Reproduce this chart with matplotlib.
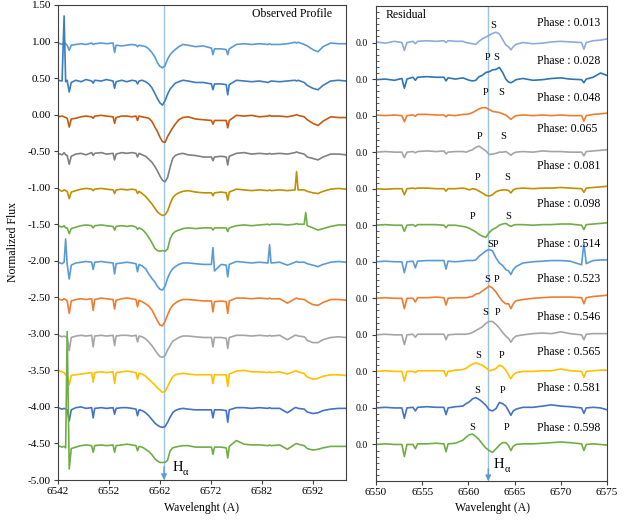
import numpy as np
import matplotlib
matplotlib.use("Agg")
import matplotlib.pyplot as plt
from matplotlib.ticker import FixedLocator, MultipleLocator, FormatStrFormatter
from matplotlib.transforms import offset_copy

plt.rcParams['font.family'] = ['Liberation Serif', 'DejaVu Serif']
plt.rcParams['axes.unicode_minus'] = False

# ---------------- observed profiles (left panel) ----------------
WL_OBS = [6542.0, 6542.8, 6543.2, 6543.5, 6543.8, 6544.2, 6544.6, 6545.5, 6546.5, 6547.5,
          6548.6, 6548.9, 6549.2, 6550.5, 6551.5, 6552.8, 6553.1, 6553.4, 6554.5, 6555.5,
          6556.5, 6557.3, 6557.6, 6557.9, 6558.5, 6559.2, 6559.8, 6560.4, 6561.0, 6561.5,
          6562.0, 6562.5, 6563.0, 6563.5, 6564.0, 6564.5, 6565.0, 6565.7, 6566.5, 6567.5,
          6569.0, 6570.5, 6572.1, 6572.4, 6572.7, 6574.0, 6575.0, 6575.3, 6575.6, 6577.0,
          6578.5, 6580.0, 6581.5, 6583.2, 6583.5, 6583.8, 6585.5, 6587.0, 6588.5, 6588.8,
          6589.1, 6590.3, 6590.6, 6590.9, 6592.0, 6593.0, 6594.0, 6595.5, 6597.0, 6598.5]

obs_01 = [0.98, 0.96, 0.99, 0.97, 0.95, 0.88, 0.95, 0.96, 0.97, 0.96,
          0.98, 0.96, 0.97, 0.98, 0.97, 0.98, 0.85, 0.95, 0.94, 0.95,
          0.96, 0.95, 0.93, 0.95, 0.94, 0.93, 0.90, 0.85, 0.79, 0.71,
          0.66, 0.64, 0.67, 0.76, 0.82, 0.86, 0.89, 0.93, 0.96, 0.95,
          0.93, 0.94, 0.91, 0.82, 0.90, 0.90, 0.89, 0.82, 0.90, 0.96,
          0.97, 0.96, 0.97, 0.96, 0.97, 0.96, 0.96, 0.97, 0.99, 0.98,
          0.99, 0.96, 0.95, 0.94, 0.89, 0.86, 0.93, 0.98, 0.97, 0.97]
obs_02 = [0.47, 0.46, 1.35, 0.45, 0.47, 0.31, 0.44, 0.47, 0.45, 0.48,
          0.46, 0.43, 0.47, 0.46, 0.48, 0.46, 0.36, 0.45, 0.47, 0.45,
          0.47, 0.46, 0.42, 0.46, 0.47, 0.45, 0.42, 0.37, 0.29, 0.22,
          0.16, 0.13, 0.19, 0.28, 0.35, 0.39, 0.43, 0.45, 0.47, 0.46,
          0.44, 0.44, 0.42, 0.34, 0.42, 0.42, 0.41, 0.27, 0.41, 0.47,
          0.46, 0.45, 0.46, 0.44, 0.45, 0.46, 0.45, 0.46, 0.47, 0.46,
          0.47, 0.44, 0.42, 0.40, 0.36, 0.34, 0.40, 0.46, 0.47, 0.46]
obs_03 = [-0.03, -0.02, -0.03, -0.04, -0.05, -0.17, -0.06, -0.05, -0.03, -0.02,
          -0.03, -0.05, -0.02, -0.01, -0.02, -0.03, -0.12, -0.04, -0.02, -0.02,
          -0.03, -0.02, -0.08, -0.02, -0.03, -0.04, -0.05, -0.09, -0.17, -0.23,
          -0.31, -0.37, -0.38, -0.30, -0.24, -0.18, -0.13, -0.07, -0.04, -0.03,
          -0.06, -0.07, -0.08, -0.13, -0.08, -0.08, -0.08, -0.18, -0.08, -0.01,
          -0.02, -0.01, -0.03, -0.02, -0.01, -0.02, -0.02, -0.03, -0.01, 0.00,
          -0.01, -0.03, -0.05, -0.07, -0.12, -0.15, -0.09, -0.03, -0.04, -0.04]
obs_04 = [-0.53, -0.55, -0.52, -0.55, -0.56, -0.68, -0.57, -0.54, -0.53, -0.55,
          -0.52, -0.56, -0.53, -0.52, -0.54, -0.53, -0.62, -0.54, -0.52, -0.53,
          -0.52, -0.53, -0.58, -0.53, -0.55, -0.57, -0.61, -0.65, -0.71, -0.77,
          -0.84, -0.90, -0.92, -0.86, -0.72, -0.60, -0.56, -0.54, -0.53, -0.55,
          -0.56, -0.58, -0.58, -0.63, -0.58, -0.57, -0.58, -0.69, -0.57, -0.53,
          -0.52, -0.54, -0.53, -0.54, -0.53, -0.54, -0.53, -0.54, -0.52, -0.51,
          -0.52, -0.54, -0.56, -0.58, -0.60, -0.62, -0.58, -0.54, -0.54, -0.55]
obs_05 = [-1.02, -1.05, -1.03, -1.04, -1.05, -1.15, -1.06, -1.04, -1.02, -1.01,
          -1.02, -1.04, -1.02, -1.01, -1.02, -1.03, -1.08, -1.03, -1.02, -1.03,
          -1.02, -1.03, -1.08, -1.05, -1.08, -1.12, -1.17, -1.22, -1.28, -1.33,
          -1.36, -1.38, -1.37, -1.32, -1.22, -1.14, -1.10, -1.07, -1.05, -1.04,
          -1.06, -1.07, -1.07, -1.11, -1.07, -1.06, -1.07, -1.17, -1.06, -1.02,
          -1.03, -1.04, -1.03, -1.04, -1.03, -1.04, -1.03, -1.04, -1.03, -0.78,
          -1.03, -1.03, -1.04, -1.05, -1.07, -1.08, -1.05, -1.02, -1.01, -1.02]
obs_06 = [-1.52, -1.54, -1.52, -1.55, -1.55, -1.63, -1.56, -1.54, -1.52, -1.51,
          -1.52, -1.55, -1.52, -1.51, -1.52, -1.53, -1.58, -1.53, -1.52, -1.53,
          -1.52, -1.54, -1.57, -1.55, -1.57, -1.62, -1.68, -1.75, -1.83, -1.86,
          -1.87, -1.86, -1.87, -1.84, -1.70, -1.63, -1.60, -1.58, -1.56, -1.55,
          -1.56, -1.55, -1.55, -1.58, -1.55, -1.55, -1.55, -1.60, -1.55, -1.52,
          -1.51, -1.52, -1.51, -1.50, -1.51, -1.50, -1.50, -1.51, -1.50, -1.49,
          -1.50, -1.50, -1.34, -1.52, -1.55, -1.58, -1.56, -1.53, -1.51, -1.51]
obs_07 = [-2.02, -2.04, -2.02, -1.70, -2.05, -2.25, -2.06, -2.03, -2.02, -2.01,
          -2.02, -2.12, -2.02, -2.01, -2.02, -2.03, -2.18, -2.04, -2.03, -2.02,
          -2.03, -2.04, -2.15, -2.05, -2.07, -2.11, -2.18, -2.24, -2.29, -2.35,
          -2.39, -2.40, -2.35, -2.24, -2.16, -2.11, -2.08, -2.05, -2.03, -2.03,
          -2.04, -2.05, -2.05, -1.82, -2.14, -2.05, -2.06, -2.22, -2.05, -2.01,
          -2.02, -2.03, -2.02, -2.03, -1.78, -2.03, -2.02, -2.06, -2.02, -2.01,
          -2.02, -2.02, -2.03, -2.04, -2.06, -2.08, -2.05, -2.02, -2.01, -2.02]
obs_08 = [-2.52, -2.54, -2.52, -2.53, -2.55, -2.72, -2.55, -2.53, -2.52, -2.53,
          -2.52, -2.68, -2.53, -2.51, -2.52, -2.53, -2.66, -2.54, -2.52, -2.51,
          -2.52, -2.53, -2.63, -2.54, -2.56, -2.59, -2.62, -2.67, -2.75, -2.82,
          -2.88, -2.89, -2.83, -2.74, -2.66, -2.61, -2.58, -2.55, -2.53, -2.53,
          -2.54, -2.55, -2.55, -2.70, -2.56, -2.55, -2.56, -2.72, -2.55, -2.51,
          -2.51, -2.52, -2.51, -2.52, -2.51, -2.52, -2.52, -2.58, -2.52, -2.51,
          -2.52, -2.53, -2.54, -2.56, -2.60, -2.61, -2.57, -2.53, -2.53, -2.54]
obs_09 = [-3.02, -3.04, -3.03, -3.04, -3.05, -3.23, -3.05, -3.03, -3.02, -3.03,
          -3.02, -3.18, -3.03, -3.02, -3.03, -3.02, -3.16, -3.03, -3.02, -3.02,
          -3.03, -3.02, -3.11, -3.03, -3.04, -3.07, -3.11, -3.16, -3.22, -3.27,
          -3.31, -3.32, -3.30, -3.22, -3.16, -3.10, -3.08, -3.05, -3.03, -3.03,
          -3.04, -3.05, -3.05, -3.18, -3.05, -3.05, -3.06, -3.20, -3.05, -3.02,
          -3.02, -3.03, -3.02, -3.03, -3.02, -3.03, -3.02, -3.08, -3.02, -3.02,
          -3.03, -3.04, -3.06, -3.09, -3.12, -3.12, -3.08, -3.05, -3.04, -3.05]
obs_10 = [-3.50, -3.52, -3.53, -3.56, -3.57, -3.70, -3.57, -3.56, -3.55, -3.54,
          -3.53, -3.66, -3.53, -3.52, -3.53, -3.52, -3.68, -3.53, -3.52, -3.51,
          -3.52, -3.53, -3.62, -3.54, -3.55, -3.58, -3.62, -3.66, -3.70, -3.74,
          -3.77, -3.80, -3.79, -3.72, -3.65, -3.59, -3.56, -3.55, -3.54, -3.55,
          -3.56, -3.56, -3.56, -3.68, -3.56, -3.56, -3.56, -3.72, -3.55, -3.51,
          -3.50, -3.52, -3.52, -3.53, -3.52, -3.53, -3.52, -3.55, -3.51, -3.51,
          -3.52, -3.54, -3.57, -3.59, -3.62, -3.61, -3.58, -3.56, -3.56, -3.57]
obs_11 = [-4.01, -4.03, -4.02, -4.03, -4.04, -4.19, -4.04, -4.01, -4.00, -4.02,
          -4.01, -4.15, -4.02, -4.01, -4.02, -4.01, -4.10, -4.02, -4.01, -4.01,
          -4.02, -4.03, -4.12, -4.04, -4.05, -4.08, -4.12, -4.17, -4.22, -4.25,
          -4.27, -4.28, -4.27, -4.21, -4.14, -4.08, -4.05, -4.03, -4.02, -4.03,
          -4.04, -4.04, -4.04, -4.15, -4.04, -4.04, -4.05, -4.21, -4.04, -4.01,
          -4.01, -4.02, -4.01, -4.02, -4.01, -4.02, -4.02, -4.08, -4.01, -4.01,
          -4.02, -4.03, -4.05, -4.07, -4.09, -4.08, -4.05, -4.03, -4.02, -4.02]
obs_12 = [-4.53, -4.55, -4.54, -4.56, -2.97, -4.85, -4.57, -4.55, -4.53, -4.52,
          -4.53, -4.62, -4.53, -4.52, -4.53, -4.52, -4.62, -4.53, -4.52, -4.51,
          -4.52, -4.53, -4.60, -4.54, -4.55, -4.58, -4.61, -4.65, -4.71, -4.74,
          -4.76, -4.76, -4.76, -4.73, -4.60, -4.56, -4.55, -4.54, -4.53, -4.53,
          -4.55, -4.55, -4.55, -4.65, -4.55, -4.55, -4.56, -4.70, -4.54, -4.46,
          -4.51, -4.52, -4.52, -4.53, -4.52, -4.53, -4.52, -4.58, -4.51, -4.50,
          -4.51, -4.53, -4.55, -4.57, -4.59, -4.58, -4.56, -4.54, -4.54, -4.54]

OBS_COLORS = ['#5B9BD5', '#3C7DBF', '#C55A11', '#808080', '#BF9000', '#70AD47',
              '#5B9BD5', '#ED7D31', '#A5A5A5', '#FFC000', '#4472C4', '#70AD47']

# ---------------- residual profiles (right panel) ----------------
WL_RES = [6550.0, 6551.0, 6552.0, 6552.8, 6553.07, 6553.35, 6554.0, 6554.26, 6554.5, 6555.5,
          6556.5, 6557.35, 6557.58, 6557.8, 6558.6, 6559.4, 6559.75, 6560.1, 6560.45, 6560.8,
          6561.15, 6561.5, 6561.9, 6562.25, 6562.6, 6563.0, 6563.35, 6563.7, 6564.05, 6564.35,
          6564.6, 6564.85, 6565.15, 6565.9, 6567.0, 6568.0, 6569.0, 6570.0, 6571.0, 6572.25,
          6572.5, 6572.75, 6573.5, 6574.3, 6575.0]

res_013 = [0.01, -0.01, 0.02, 0.00, -0.13, 0.00, 0.02, -0.02, 0.02, 0.03,
           0.02, 0.03, 0.00, 0.03, 0.02, 0.02, 0.00, -0.01, -0.02, -0.03,
           0.02, 0.06, 0.09, 0.12, 0.15, 0.17, 0.14, 0.05, -0.04, -0.07,
           -0.12, -0.07, -0.03, 0.00, -0.02, -0.01, 0.01, 0.02, 0.01, 0.00,
           -0.11, 0.00, 0.03, 0.04, 0.06]
res_028 = [-0.01, 0.00, -0.02, 0.01, -0.15, 0.00, 0.03, -0.02, 0.03, 0.04,
           0.03, 0.03, -0.03, 0.02, 0.00, 0.02, 0.00, -0.02, -0.03, -0.02,
           0.04, 0.06, 0.11, 0.12, 0.15, 0.16, 0.19, 0.11, 0.00, -0.05,
           -0.06, -0.04, -0.01, 0.01, -0.02, -0.01, 0.01, 0.02, 0.00, -0.01,
           -0.06, 0.00, 0.03, 0.10, 0.06]
res_048 = [0.01, 0.00, 0.01, 0.00, -0.10, 0.00, 0.01, -0.01, 0.02, 0.02,
           0.01, 0.01, -0.02, 0.01, 0.00, 0.02, 0.02, 0.03, 0.05, 0.08,
           0.11, 0.13, 0.13, 0.10, 0.07, 0.06, 0.05, 0.03, 0.01, -0.03,
           -0.06, -0.03, 0.00, 0.01, 0.00, 0.01, 0.00, 0.01, 0.00, 0.00,
           -0.09, 0.00, 0.02, 0.03, 0.04]
res_065 = [0.00, 0.01, 0.00, 0.00, -0.09, 0.00, 0.01, -0.01, 0.01, 0.02,
           0.01, 0.02, -0.03, 0.00, 0.01, 0.01, 0.00, 0.02, 0.04, 0.08,
           0.10, 0.06, 0.02, -0.04, -0.03, -0.02, 0.00, 0.00, 0.01, -0.02,
           -0.05, -0.02, 0.00, 0.01, 0.00, 0.02, 0.01, 0.01, 0.00, 0.00,
           -0.06, 0.01, 0.02, 0.03, 0.04]
res_081 = [0.00, -0.01, 0.00, 0.00, -0.10, 0.00, 0.01, 0.00, 0.01, 0.01,
           0.00, 0.00, -0.04, 0.00, 0.00, 0.01, 0.00, -0.02, 0.00, -0.01,
           -0.04, -0.07, -0.11, -0.12, -0.10, -0.05, -0.03, -0.02, -0.02, -0.03,
           -0.07, -0.02, 0.00, 0.01, 0.00, 0.01, 0.01, 0.02, 0.01, 0.00,
           -0.06, 0.01, 0.02, 0.03, 0.04]
res_098 = [0.00, 0.01, 0.00, 0.00, -0.10, 0.00, 0.01, -0.02, 0.01, 0.01,
           0.01, 0.00, -0.04, 0.00, 0.00, -0.02, -0.03, -0.05, -0.08, -0.11,
           -0.15, -0.18, -0.20, -0.12, -0.07, -0.04, 0.00, 0.02, 0.03, 0.00,
           -0.02, 0.00, 0.01, 0.01, 0.00, 0.01, 0.01, 0.02, 0.02, 0.00,
           -0.07, 0.01, 0.02, 0.03, 0.04]
res_514 = [0.00, 0.01, 0.00, 0.00, -0.18, 0.00, 0.01, -0.10, 0.01, 0.02,
           0.02, 0.02, -0.12, 0.01, 0.00, 0.01, 0.02, 0.02, 0.02, 0.03,
           0.09, 0.13, 0.18, 0.20, 0.18, 0.06, -0.02, -0.06, -0.13, -0.15,
           -0.21, -0.13, -0.08, -0.02, 0.00, 0.01, 0.02, 0.02, 0.01, -0.05,
           0.31, -0.03, 0.02, 0.03, 0.03]
res_523 = [0.00, 0.01, 0.00, 0.00, -0.17, 0.00, 0.00, -0.06, 0.01, 0.01,
           0.02, 0.01, -0.11, 0.00, 0.01, 0.01, 0.01, 0.02, 0.03, 0.07,
           0.08, 0.12, 0.16, 0.20, 0.17, 0.10, 0.02, -0.05, -0.09, -0.09,
           -0.17, -0.09, -0.04, -0.02, 0.00, 0.01, 0.02, 0.02, 0.02, 0.01,
           -0.09, 0.01, 0.03, 0.04, 0.05]
res_546 = [0.00, 0.01, 0.00, 0.00, -0.16, 0.00, 0.01, -0.04, 0.01, 0.01,
           0.01, 0.01, -0.08, 0.00, 0.01, 0.01, 0.01, 0.02, 0.04, 0.07,
           0.10, 0.13, 0.19, 0.22, 0.22, 0.17, 0.11, 0.04, -0.02, -0.06,
           -0.12, -0.06, -0.02, 0.00, 0.02, 0.03, 0.02, 0.05, 0.02, 0.00,
           -0.08, 0.01, 0.02, 0.02, 0.02]
res_565 = [0.00, 0.01, 0.00, 0.00, -0.16, 0.00, 0.00, -0.02, 0.01, 0.01,
           0.01, 0.01, -0.08, 0.00, 0.02, 0.03, 0.05, 0.09, 0.12, 0.14,
           0.12, 0.10, 0.06, 0.01, 0.02, 0.05, 0.10, 0.08, 0.02, -0.06,
           -0.12, -0.06, -0.02, 0.00, 0.00, 0.01, 0.01, 0.04, 0.01, 0.00,
           -0.10, 0.00, 0.01, 0.02, 0.02]
res_581 = [0.00, 0.01, 0.00, 0.00, -0.17, 0.00, 0.01, -0.05, 0.01, 0.02,
           0.01, 0.01, -0.11, 0.00, 0.02, 0.03, 0.07, 0.10, 0.15, 0.17,
           0.14, 0.10, 0.04, -0.03, -0.05, -0.01, 0.09, 0.07, 0.03, -0.05,
           -0.12, -0.05, -0.02, 0.01, 0.01, 0.03, 0.05, 0.03, 0.02, 0.00,
           -0.09, 0.00, 0.01, 0.00, -0.03]
res_598 = [0.00, 0.01, 0.00, 0.00, -0.20, 0.00, 0.00, -0.07, 0.01, 0.01,
           0.02, 0.01, -0.12, 0.01, 0.02, 0.07, 0.12, 0.16, 0.17, 0.13,
           0.08, 0.01, -0.06, -0.10, -0.13, -0.07, -0.01, 0.03, 0.03, -0.02,
           -0.10, -0.03, 0.00, 0.01, 0.01, 0.02, 0.03, 0.04, 0.03, 0.01,
           -0.10, 0.00, 0.01, 0.00, -0.01]

PHASES = ['0.013', '0.028', '0.048', '0.065', '0.081', '0.098',
          '0.514', '0.523', '0.546', '0.565', '0.581', '0.598']
RES_COLORS = ['#8FAADC', '#2E75B6', '#ED7D31', '#A5A5A5', '#BF9000', '#70AD47',
              '#5B9BD5', '#ED7D31', '#A5A5A5', '#FFC000', '#4472C4', '#70AD47']
# primary / secondary component marks: (label, wavelength) for each phase
COMPONENT_MARKS = [
    [('S', 6562.7)],
    [('P', 6562.1), ('S', 6563.05)],
    [('P', 6561.85), ('S', 6563.5)],
    [('P', 6561.25), ('S', 6563.8)],
    [('P', 6560.95), ('S', 6564.15)],
    [('P', 6560.5), ('S', 6564.3)],
    [('SP', 6562.7)],
    [('S', 6562.0), ('P', 6563.0)],
    [('S', 6561.85), ('P', 6563.15)],
    [('S', 6561.05), ('P', 6563.55)],
    [('S', 6560.9), ('P', 6563.65)],
    [('S', 6560.4), ('P', 6564.15)],
]

H_ALPHA_OBS = 6562.8
H_ALPHA_RES = 6562.15
RES_STEP = 0.6

observed = [obs_01, obs_02, obs_03, obs_04, obs_05, obs_06,
            obs_07, obs_08, obs_09, obs_10, obs_11, obs_12]
residuals = [res_013, res_028, res_048, res_065, res_081, res_098,
             res_514, res_523, res_546, res_565, res_581, res_598]

W, H = 628, 520
fig = plt.figure(figsize=(W / 100, H / 100), dpi=100)
axL = fig.add_axes([58 / W, 40 / H, 288 / W, 475 / H])
axR = fig.add_axes([376 / W, 39 / H, 231 / W, 475 / H])

spine_col = '#404040'
line_col = '#9DC3E6'
arrow_col = '#5B9BD5'


def h_alpha(ax, x, y):
    """Write 'H' with a small upright alpha subscript at data point (x, y)."""
    ax.text(x, y, 'H', fontsize=10.5, ha='left', va='center')
    tr = offset_copy(ax.transData, fig=ax.figure, x=7.6, y=-3.2, units='points')
    ax.text(x, y, 'α', fontsize=7.5, ha='left', va='center', transform=tr)


# ---- left panel ----
axL.axvline(H_ALPHA_OBS, color=line_col, lw=1.0, zorder=1)
for flux, col in zip(observed, OBS_COLORS):
    axL.plot(WL_OBS, flux, color=col, lw=1.2, zorder=2, solid_joinstyle='round')
axL.annotate('', xy=(H_ALPHA_OBS, -5.0), xytext=(H_ALPHA_OBS, -4.82),
             arrowprops=dict(arrowstyle='-|>', color=arrow_col, lw=1.0,
                             mutation_scale=8, shrinkA=0, shrinkB=0),
             annotation_clip=False, zorder=3)
axL.set_xlim(6542, 6598.5)
axL.set_ylim(-5.0, 1.5)
axL.xaxis.set_major_locator(FixedLocator(np.arange(6542, 6598, 10)))
axL.yaxis.set_major_locator(FixedLocator(np.arange(-5.0, 1.51, 0.5)))
axL.yaxis.set_major_formatter(FormatStrFormatter('%.2f'))
axL.tick_params(axis='both', labelsize=8, length=3, width=0.8, color=spine_col, pad=2)
axL.text(0.952, 0.981, 'Observed Profile', transform=axL.transAxes,
         ha='right', va='center', fontsize=8.5)
h_alpha(axL, 6564.4, -4.83)

# ---- right panel ----
axR.axvline(H_ALPHA_RES, color=line_col, lw=1.0, zorder=1)
baselines = [-RES_STEP * i for i in range(len(residuals))]
for i, (res, col) in enumerate(zip(residuals, RES_COLORS)):
    axR.plot(WL_RES, np.asarray(res) + baselines[i], color=col, lw=1.2, zorder=2,
             solid_joinstyle='round')
axR.annotate('', xy=(H_ALPHA_RES, -7.2), xytext=(H_ALPHA_RES, -7.0),
             arrowprops=dict(arrowstyle='-|>', color=arrow_col, lw=1.0,
                             mutation_scale=8, shrinkA=0, shrinkB=0),
             annotation_clip=False, zorder=3)
axR.set_xlim(6550, 6575)
axR.set_ylim(-7.2, 0.6)
axR.xaxis.set_major_locator(MultipleLocator(5))
axR.yaxis.set_major_locator(FixedLocator(baselines))
axR.set_yticklabels(['0.0'] * len(baselines))
axR.yaxis.set_minor_locator(MultipleLocator(0.1))
axR.tick_params(axis='x', labelsize=8, length=3, width=0.8, color=spine_col, pad=2)
axR.tick_params(axis='y', which='major', labelsize=7, length=3, width=0.8,
                color=spine_col, pad=3, direction='out')
axR.tick_params(axis='y', which='minor', length=2.5, width=0.6, color=spine_col,
                direction='in')
axR.text(0.042, 0.981, 'Residual', transform=axR.transAxes,
         ha='left', va='center', fontsize=8.5)

label_px = [23, 61, 98, 129, 166, 204, 244, 279, 317, 352, 388, 428]
for i, ph in enumerate(PHASES):
    y = 0.6 - (label_px[i] - 6) * RES_STEP / 36.5
    sep = ': ' if ph == '0.065' else ' : '
    x = 6574.0 if ph == '0.065' else 6574.3
    axR.text(x, y, 'Phase' + sep + ph, ha='right', va='center', fontsize=8.5)

mark_px = [25, 57.3, 92.3, 136.7, 177.5, 216, 244, 279, 312.3, 355, 390, 426.7]
for i, marks in enumerate(COMPONENT_MARKS):
    y = 0.6 - (mark_px[i] - 6) * RES_STEP / 36.5
    for lab, wl in marks:
        axR.text(wl, y, lab, ha='center', va='center', fontsize=7.5)
h_alpha(axR, 6562.75, -6.93)

for ax in (axL, axR):
    for sp in ax.spines.values():
        sp.set_color(spine_col)
        sp.set_linewidth(0.8)

fig.text(13 / W, 1 - 242 / H, 'Normalized Flux', rotation=90, ha='center',
         va='center', fontsize=8.5)
fig.text(202 / W, 1 - 508 / H, 'Wavelenght (A)', ha='center', va='center', fontsize=8.5)
fig.text(492 / W, 1 - 508 / H, 'Wavelenght (A)', ha='center', va='center', fontsize=8.5)

fig.savefig('out.png', dpi=100)
